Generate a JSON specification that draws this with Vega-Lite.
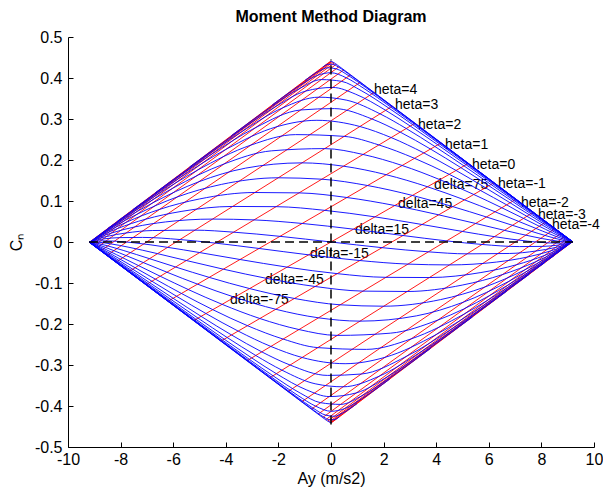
{
"$schema":"https://vega.github.io/schema/vega-lite/v6.json",
"width":526,"height":410,
"autosize":{"type":"none"},
"padding":{"left":68,"top":37,"right":9,"bottom":43},
"background":"white",
"config":{"view":{"stroke":null},"font":"Liberation Sans"},
"title":{"text":"Moment Method Diagram","fontSize":16,"fontWeight":"bold","font":"Liberation Sans","color":"black","offset":4,"anchor":"middle"},
"datasets":{
"lab":[
{"t":"heta=4","x":1.635,"y":0.371},{"t":"heta=3","x":2.433,"y":0.334},{"t":"heta=2","x":3.308,"y":0.285},{"t":"heta=1","x":4.335,"y":0.237},{"t":"heta=0","x":5.36,"y":0.188},{"t":"heta=-1","x":6.35,"y":0.1415},{"t":"heta=-2","x":7.224,"y":0.095},{"t":"heta=-3","x":7.87,"y":0.066},{"t":"heta=-4","x":8.4,"y":0.0415},
{"t":"delta=75","x":3.92,"y":0.139},{"t":"delta=45","x":2.55,"y":0.0927},{"t":"delta=15","x":0.91,"y":0.0293},{"t":"delta=-15","x":-0.8,"y":-0.0293},{"t":"delta=-45","x":-2.51,"y":-0.0927},{"t":"delta=-75","x":-3.84,"y":-0.1415}
],
"red":[
{"b":0,"x":5.225,"y":0.1918},{"b":0,"x":-5.225,"y":-0.1918},
{"b":1,"x":4.189,"y":0.2418},{"b":1,"x":-6.202,"y":-0.1447},
{"b":2,"x":3.196,"y":0.2897},{"b":2,"x":-7.036,"y":-0.1044},
{"b":3,"x":2.331,"y":0.3314},{"b":3,"x":-7.694,"y":-0.0727},
{"b":4,"x":1.638,"y":0.3648},{"b":4,"x":-8.179,"y":-0.0493},
{"b":5,"x":1.118,"y":0.3898},{"b":5,"x":-8.521,"y":-0.0328},
{"b":6,"x":0.746,"y":0.4077},{"b":6,"x":-8.754,"y":-0.0215},
{"b":7,"x":0.490,"y":0.4199},{"b":7,"x":-8.910,"y":-0.0140},
{"b":8,"x":0.317,"y":0.4281},{"b":8,"x":-9.012,"y":-0.0091},
{"b":9,"x":0.201,"y":0.4335},{"b":9,"x":-9.079,"y":-0.0059},
{"b":10,"x":0.123,"y":0.4368},{"b":10,"x":-9.122,"y":-0.0038},
{"b":11,"x":0.069,"y":0.4389},{"b":11,"x":-9.150,"y":-0.0024},
{"b":12,"x":0.030,"y":0.4400},{"b":12,"x":-9.168,"y":-0.0016},
{"b":13,"x":-0.002,"y":0.4404},{"b":13,"x":-9.179,"y":-0.0010},
{"b":14,"x":-0.031,"y":0.4403},{"b":14,"x":-9.187,"y":-0.0007},
{"b":-1,"x":-4.189,"y":-0.2418},{"b":-1,"x":6.202,"y":0.1447},
{"b":-2,"x":-3.196,"y":-0.2897},{"b":-2,"x":7.036,"y":0.1044},
{"b":-3,"x":-2.331,"y":-0.3314},{"b":-3,"x":7.694,"y":0.0727},
{"b":-4,"x":-1.638,"y":-0.3648},{"b":-4,"x":8.179,"y":0.0493},
{"b":-5,"x":-1.118,"y":-0.3898},{"b":-5,"x":8.521,"y":0.0328},
{"b":-6,"x":-0.746,"y":-0.4077},{"b":-6,"x":8.754,"y":0.0215},
{"b":-7,"x":-0.490,"y":-0.4199},{"b":-7,"x":8.910,"y":0.0140},
{"b":-8,"x":-0.317,"y":-0.4281},{"b":-8,"x":9.012,"y":0.0091},
{"b":-9,"x":-0.201,"y":-0.4335},{"b":-9,"x":9.079,"y":0.0059},
{"b":-10,"x":-0.123,"y":-0.4368},{"b":-10,"x":9.122,"y":0.0038},
{"b":-11,"x":-0.069,"y":-0.4389},{"b":-11,"x":9.150,"y":0.0024},
{"b":-12,"x":-0.030,"y":-0.4400},{"b":-12,"x":9.168,"y":0.0016},
{"b":-13,"x":0.002,"y":-0.4404},{"b":-13,"x":9.179,"y":0.0010},
{"b":-14,"x":0.031,"y":-0.4403},{"b":-14,"x":9.187,"y":0.0007}
],
"blue":[
{"k":0,"x":-9.130,"y":0.0021},{"k":0,"x":-8.884,"y":0.0076},{"k":0,"x":-8.529,"y":0.0135},{"k":0,"x":-7.791,"y":0.0220},{"k":0,"x":-6.781,"y":0.0280},{"k":0,"x":-5.173,"y":0.0289},{"k":0,"x":-3.702,"y":0.0240},{"k":0,"x":-1.940,"y":0.0138},{"k":0,"x":0,"y":0},{"k":0,"x":1.940,"y":-0.0138},{"k":0,"x":3.702,"y":-0.0240},{"k":0,"x":5.173,"y":-0.0289},{"k":0,"x":6.781,"y":-0.0280},{"k":0,"x":7.791,"y":-0.0220},{"k":0,"x":8.529,"y":-0.0135},{"k":0,"x":8.884,"y":-0.0076},{"k":0,"x":9.130,"y":-0.0021},
{"k":1,"x":-9.109,"y":0.0031},{"k":1,"x":-8.795,"y":0.0118},{"k":1,"x":-8.354,"y":0.0217},{"k":1,"x":-7.466,"y":0.0367},{"k":1,"x":-6.296,"y":0.0489},{"k":1,"x":-4.504,"y":0.0559},{"k":1,"x":-2.926,"y":0.0539},{"k":1,"x":-1.096,"y":0.0452},{"k":1,"x":0.851,"y":0.0313},{"k":1,"x":2.736,"y":0.0158},{"k":1,"x":4.395,"y":0.0027},{"k":1,"x":5.742,"y":-0.0060},{"k":1,"x":7.171,"y":-0.0112},{"k":1,"x":8.040,"y":-0.0107},{"k":1,"x":8.659,"y":-0.0074},{"k":1,"x":8.949,"y":-0.0044},{"k":1,"x":9.146,"y":-0.0013},
{"k":2,"x":-9.078,"y":0.0046},{"k":2,"x":-8.672,"y":0.0177},{"k":2,"x":-8.119,"y":0.0328},{"k":2,"x":-7.048,"y":0.0556},{"k":2,"x":-5.701,"y":0.0745},{"k":2,"x":-3.740,"y":0.0867},{"k":2,"x":-2.086,"y":0.0862},{"k":2,"x":-0.237,"y":0.0772},{"k":2,"x":1.669,"y":0.0613},{"k":2,"x":3.459,"y":0.0427},{"k":2,"x":4.994,"y":0.0258},{"k":2,"x":6.213,"y":0.0130},{"k":2,"x":7.479,"y":0.0020},{"k":2,"x":8.232,"y":-0.0021},{"k":2,"x":8.756,"y":-0.0029},{"k":2,"x":8.997,"y":-0.0021},{"k":2,"x":9.157,"y":-0.0008},
{"k":3,"x":-9.034,"y":0.0067},{"k":3,"x":-8.500,"y":0.0258},{"k":3,"x":-7.802,"y":0.0476},{"k":3,"x":-6.516,"y":0.0796},{"k":3,"x":-4.990,"y":0.1051},{"k":3,"x":-2.897,"y":0.1207},{"k":3,"x":-1.214,"y":0.1198},{"k":3,"x":0.604,"y":0.1085},{"k":3,"x":2.424,"y":0.0890},{"k":3,"x":4.093,"y":0.0663},{"k":3,"x":5.498,"y":0.0452},{"k":3,"x":6.596,"y":0.0284},{"k":3,"x":7.719,"y":0.0124},{"k":3,"x":8.377,"y":0.0045},{"k":3,"x":8.829,"y":0.0005},{"k":3,"x":9.033,"y":-0.0004},{"k":3,"x":9.166,"y":-0.0004},
{"k":4,"x":-8.971,"y":0.0098},{"k":4,"x":-8.258,"y":0.0374},{"k":4,"x":-7.373,"y":0.0677},{"k":4,"x":-5.848,"y":0.1098},{"k":4,"x":-4.166,"y":0.1405},{"k":4,"x":-2.006,"y":0.1566},{"k":4,"x":-0.348,"y":0.1532},{"k":4,"x":1.392,"y":0.1377},{"k":4,"x":3.095,"y":0.1136},{"k":4,"x":4.631,"y":0.0863},{"k":4,"x":5.909,"y":0.0610},{"k":4,"x":6.900,"y":0.0407},{"k":4,"x":7.904,"y":0.0204},{"k":4,"x":8.487,"y":0.0095},{"k":4,"x":8.883,"y":0.0031},{"k":4,"x":9.060,"y":0.0008},{"k":4,"x":9.172,"y":-0.0001},
{"k":5,"x":-8.874,"y":0.0144},{"k":5,"x":-7.911,"y":0.0539},{"k":5,"x":-6.795,"y":0.0948},{"k":5,"x":-5.030,"y":0.1468},{"k":5,"x":-3.245,"y":0.1802},{"k":5,"x":-1.103,"y":0.1930},{"k":5,"x":0.476,"y":0.1849},{"k":5,"x":2.099,"y":0.1641},{"k":5,"x":3.669,"y":0.1347},{"k":5,"x":5.074,"y":0.1028},{"k":5,"x":6.238,"y":0.0737},{"k":5,"x":7.137,"y":0.0502},{"k":5,"x":8.045,"y":0.0265},{"k":5,"x":8.570,"y":0.0132},{"k":5,"x":8.924,"y":0.0049},{"k":5,"x":9.079,"y":0.0018},{"k":5,"x":9.177,"y":0.0002},
{"k":6,"x":-8.722,"y":0.0217},{"k":6,"x":-7.406,"y":0.0780},{"k":6,"x":-6.023,"y":0.1310},{"k":6,"x":-4.064,"y":0.1904},{"k":6,"x":-2.268,"y":0.2223},{"k":6,"x":-0.238,"y":0.2278},{"k":6,"x":1.219,"y":0.2135},{"k":6,"x":2.706,"y":0.1866},{"k":6,"x":4.141,"y":0.1520},{"k":6,"x":5.428,"y":0.1159},{"k":6,"x":6.494,"y":0.0835},{"k":6,"x":7.319,"y":0.0576},{"k":6,"x":8.152,"y":0.0310},{"k":6,"x":8.632,"y":0.0160},{"k":6,"x":8.953,"y":0.0063},{"k":6,"x":9.093,"y":0.0024},{"k":6,"x":9.180,"y":0.0003},
{"k":7,"x":-8.489,"y":0.0330},{"k":7,"x":-7.830,"y":0.0627},{"k":7,"x":-6.716,"y":0.1109},{"k":7,"x":-5.083,"y":0.1750},{"k":7,"x":-3.047,"y":0.2363},{"k":7,"x":-1.347,"y":0.2619},{"k":7,"x":0.501,"y":0.2576},{"k":7,"x":1.821,"y":0.2367},{"k":7,"x":3.177,"y":0.2041},{"k":7,"x":4.496,"y":0.1650},{"k":7,"x":5.687,"y":0.1255},{"k":7,"x":6.678,"y":0.0906},{"k":7,"x":7.447,"y":0.0628},{"k":7,"x":8.226,"y":0.0342},{"k":7,"x":8.674,"y":0.0179},{"k":7,"x":8.974,"y":0.0073},{"k":7,"x":9.103,"y":0.0029},{"k":7,"x":9.182,"y":0.0004},
{"k":8,"x":-8.124,"y":0.0505},{"k":8,"x":-7.207,"y":0.0926},{"k":8,"x":-5.803,"y":0.1544},{"k":8,"x":-4.006,"y":0.2255},{"k":8,"x":-2.052,"y":0.2813},{"k":8,"x":-0.537,"y":0.2968},{"k":8,"x":1.098,"y":0.2817},{"k":8,"x":2.287,"y":0.2547},{"k":8,"x":3.530,"y":0.2173},{"k":8,"x":4.755,"y":0.1745},{"k":8,"x":5.872,"y":0.1324},{"k":8,"x":6.808,"y":0.0957},{"k":8,"x":7.538,"y":0.0664},{"k":8,"x":8.278,"y":0.0364},{"k":8,"x":8.704,"y":0.0192},{"k":8,"x":8.988,"y":0.0080},{"k":8,"x":9.110,"y":0.0032},{"k":8,"x":9.184,"y":0.0005},
{"k":9,"x":-7.538,"y":0.0788},{"k":9,"x":-6.299,"y":0.1362},{"k":9,"x":-4.651,"y":0.2093},{"k":9,"x":-2.860,"y":0.2792},{"k":9,"x":-1.151,"y":0.3220},{"k":9,"x":0.128,"y":0.3254},{"k":9,"x":1.555,"y":0.3001},{"k":9,"x":2.632,"y":0.2680},{"k":9,"x":3.784,"y":0.2267},{"k":9,"x":4.939,"y":0.1813},{"k":9,"x":6.002,"y":0.1373},{"k":9,"x":6.899,"y":0.0991},{"k":9,"x":7.600,"y":0.0689},{"k":9,"x":8.313,"y":0.0380},{"k":9,"x":8.724,"y":0.0202},{"k":9,"x":8.998,"y":0.0084},{"k":9,"x":9.115,"y":0.0035},{"k":9,"x":9.185,"y":0.0006},
{"k":10,"x":-6.679,"y":0.1201},{"k":10,"x":-5.142,"y":0.1917},{"k":10,"x":-3.421,"y":0.2679},{"k":10,"x":-1.839,"y":0.3271},{"k":10,"x":-0.459,"y":0.3532},{"k":10,"x":0.602,"y":0.3458},{"k":10,"x":1.864,"y":0.3126},{"k":10,"x":2.860,"y":0.2768},{"k":10,"x":3.950,"y":0.2329},{"k":10,"x":5.057,"y":0.1856},{"k":10,"x":6.084,"y":0.1403},{"k":10,"x":6.956,"y":0.1013},{"k":10,"x":7.639,"y":0.0705},{"k":10,"x":8.335,"y":0.0389},{"k":10,"x":8.737,"y":0.0207},{"k":10,"x":9.004,"y":0.0087},{"k":10,"x":9.118,"y":0.0036},{"k":10,"x":9.186,"y":0.0006},
{"k":11,"x":-5.382,"y":0.1826},{"k":11,"x":-3.698,"y":0.2611},{"k":11,"x":-2.170,"y":0.3276},{"k":11,"x":-0.966,"y":0.3680},{"k":11,"x":0.066,"y":0.3770},{"k":11,"x":0.942,"y":0.3604},{"k":11,"x":2.078,"y":0.3212},{"k":11,"x":3.015,"y":0.2827},{"k":11,"x":4.061,"y":0.2370},{"k":11,"x":5.135,"y":0.1885},{"k":11,"x":6.139,"y":0.1424},{"k":11,"x":6.993,"y":0.1028},{"k":11,"x":7.665,"y":0.0715},{"k":11,"x":8.350,"y":0.0395},{"k":11,"x":8.745,"y":0.0211},{"k":11,"x":9.007,"y":0.0089},{"k":11,"x":9.120,"y":0.0037},{"k":11,"x":9.186,"y":0.0006},
{"k":12,"x":-3.787,"y":0.2594},{"k":12,"x":-2.289,"y":0.3287},{"k":12,"x":-1.174,"y":0.3750},{"k":12,"x":-0.365,"y":0.3961},{"k":12,"x":0.397,"y":0.3919},{"k":12,"x":1.147,"y":0.3693},{"k":12,"x":2.204,"y":0.3263},{"k":12,"x":3.106,"y":0.2862},{"k":12,"x":4.125,"y":0.2394},{"k":12,"x":5.180,"y":0.1902},{"k":12,"x":6.170,"y":0.1435},{"k":12,"x":7.015,"y":0.1036},{"k":12,"x":7.679,"y":0.0721},{"k":12,"x":8.358,"y":0.0399},{"k":12,"x":8.750,"y":0.0213},{"k":12,"x":9.010,"y":0.0090},{"k":12,"x":9.121,"y":0.0037},{"k":12,"x":9.186,"y":0.0006},
{"k":13,"x":-2.234,"y":0.3342},{"k":13,"x":-1.194,"y":0.3813},{"k":13,"x":-0.516,"y":0.4064},{"k":13,"x":-0.006,"y":0.4129},{"k":13,"x":0.584,"y":0.4004},{"k":13,"x":1.261,"y":0.3742},{"k":13,"x":2.273,"y":0.3291},{"k":13,"x":3.155,"y":0.2881},{"k":13,"x":4.160,"y":0.2407},{"k":13,"x":5.205,"y":0.1910},{"k":13,"x":6.187,"y":0.1442},{"k":13,"x":7.026,"y":0.1041},{"k":13,"x":7.687,"y":0.0724},{"k":13,"x":8.362,"y":0.0401},{"k":13,"x":8.752,"y":0.0214},{"k":13,"x":9.011,"y":0.0090},{"k":13,"x":9.121,"y":0.0038},{"k":13,"x":9.187,"y":0.0006},
{"k":14,"x":-0.991,"y":0.3940},{"k":14,"x":-0.464,"y":0.4163},{"k":14,"x":-0.124,"y":0.4250},{"k":14,"x":0.195,"y":0.4224},{"k":14,"x":0.686,"y":0.4050},{"k":14,"x":1.321,"y":0.3768},{"k":14,"x":2.309,"y":0.3305},{"k":14,"x":3.181,"y":0.2891},{"k":14,"x":4.178,"y":0.2414},{"k":14,"x":5.218,"y":0.1915},{"k":14,"x":6.196,"y":0.1445},{"k":14,"x":7.032,"y":0.1043},{"k":14,"x":7.691,"y":0.0726},{"k":14,"x":8.365,"y":0.0402},{"k":14,"x":8.753,"y":0.0215},{"k":14,"x":9.011,"y":0.0091},{"k":14,"x":9.121,"y":0.0038},{"k":14,"x":9.187,"y":0.0006},
{"k":15,"x":-0.308,"y":0.4269},{"k":15,"x":-0.107,"y":0.4334},{"k":15,"x":0.056,"y":0.4336},{"k":15,"x":0.284,"y":0.4266},{"k":15,"x":0.730,"y":0.4070},{"k":15,"x":1.348,"y":0.3779},{"k":15,"x":2.325,"y":0.3312},{"k":15,"x":3.192,"y":0.2895},{"k":15,"x":4.186,"y":0.2417},{"k":15,"x":5.223,"y":0.1917},{"k":15,"x":6.200,"y":0.1446},{"k":15,"x":7.035,"y":0.1044},{"k":15,"x":7.693,"y":0.0727},{"k":15,"x":8.366,"y":0.0402},{"k":15,"x":8.754,"y":0.0215},{"k":15,"x":9.012,"y":0.0091},{"k":15,"x":9.122,"y":0.0038},{"k":15,"x":9.187,"y":0.0007},
{"k":16,"x":-0.031,"y":0.4403},{"k":16,"x":0.030,"y":0.4400},{"k":16,"x":0.123,"y":0.4368},{"k":16,"x":0.317,"y":0.4281},{"k":16,"x":0.746,"y":0.4077},{"k":16,"x":1.357,"y":0.3783},{"k":16,"x":2.331,"y":0.3314},{"k":16,"x":3.196,"y":0.2897},{"k":16,"x":4.189,"y":0.2418},{"k":16,"x":5.225,"y":0.1918},{"k":16,"x":6.202,"y":0.1447},{"k":16,"x":7.036,"y":0.1044},{"k":16,"x":7.694,"y":0.0727},{"k":16,"x":8.366,"y":0.0403},{"k":16,"x":8.754,"y":0.0215},{"k":16,"x":9.012,"y":0.0091},{"k":16,"x":9.122,"y":0.0038},{"k":16,"x":9.187,"y":0.0007},
{"k":-1,"x":9.109,"y":-0.0031},{"k":-1,"x":8.795,"y":-0.0118},{"k":-1,"x":8.354,"y":-0.0217},{"k":-1,"x":7.466,"y":-0.0367},{"k":-1,"x":6.296,"y":-0.0489},{"k":-1,"x":4.504,"y":-0.0559},{"k":-1,"x":2.926,"y":-0.0539},{"k":-1,"x":1.096,"y":-0.0452},{"k":-1,"x":-0.851,"y":-0.0313},{"k":-1,"x":-2.736,"y":-0.0158},{"k":-1,"x":-4.395,"y":-0.0027},{"k":-1,"x":-5.742,"y":0.0060},{"k":-1,"x":-7.171,"y":0.0112},{"k":-1,"x":-8.040,"y":0.0107},{"k":-1,"x":-8.659,"y":0.0074},{"k":-1,"x":-8.949,"y":0.0044},{"k":-1,"x":-9.146,"y":0.0013},
{"k":-2,"x":9.078,"y":-0.0046},{"k":-2,"x":8.672,"y":-0.0177},{"k":-2,"x":8.119,"y":-0.0328},{"k":-2,"x":7.048,"y":-0.0556},{"k":-2,"x":5.701,"y":-0.0745},{"k":-2,"x":3.740,"y":-0.0867},{"k":-2,"x":2.086,"y":-0.0862},{"k":-2,"x":0.237,"y":-0.0772},{"k":-2,"x":-1.669,"y":-0.0613},{"k":-2,"x":-3.459,"y":-0.0427},{"k":-2,"x":-4.994,"y":-0.0258},{"k":-2,"x":-6.213,"y":-0.0130},{"k":-2,"x":-7.479,"y":-0.0020},{"k":-2,"x":-8.232,"y":0.0021},{"k":-2,"x":-8.756,"y":0.0029},{"k":-2,"x":-8.997,"y":0.0021},{"k":-2,"x":-9.157,"y":0.0008},
{"k":-3,"x":9.034,"y":-0.0067},{"k":-3,"x":8.500,"y":-0.0258},{"k":-3,"x":7.802,"y":-0.0476},{"k":-3,"x":6.516,"y":-0.0796},{"k":-3,"x":4.990,"y":-0.1051},{"k":-3,"x":2.897,"y":-0.1207},{"k":-3,"x":1.214,"y":-0.1198},{"k":-3,"x":-0.604,"y":-0.1085},{"k":-3,"x":-2.424,"y":-0.0890},{"k":-3,"x":-4.093,"y":-0.0663},{"k":-3,"x":-5.498,"y":-0.0452},{"k":-3,"x":-6.596,"y":-0.0284},{"k":-3,"x":-7.719,"y":-0.0124},{"k":-3,"x":-8.377,"y":-0.0045},{"k":-3,"x":-8.829,"y":-0.0005},{"k":-3,"x":-9.033,"y":0.0004},{"k":-3,"x":-9.166,"y":0.0004},
{"k":-4,"x":8.971,"y":-0.0098},{"k":-4,"x":8.258,"y":-0.0374},{"k":-4,"x":7.373,"y":-0.0677},{"k":-4,"x":5.848,"y":-0.1098},{"k":-4,"x":4.166,"y":-0.1405},{"k":-4,"x":2.006,"y":-0.1566},{"k":-4,"x":0.348,"y":-0.1532},{"k":-4,"x":-1.392,"y":-0.1377},{"k":-4,"x":-3.095,"y":-0.1136},{"k":-4,"x":-4.631,"y":-0.0863},{"k":-4,"x":-5.909,"y":-0.0610},{"k":-4,"x":-6.900,"y":-0.0407},{"k":-4,"x":-7.904,"y":-0.0204},{"k":-4,"x":-8.487,"y":-0.0095},{"k":-4,"x":-8.883,"y":-0.0031},{"k":-4,"x":-9.060,"y":-0.0008},{"k":-4,"x":-9.172,"y":0.0001},
{"k":-5,"x":8.874,"y":-0.0144},{"k":-5,"x":7.911,"y":-0.0539},{"k":-5,"x":6.795,"y":-0.0948},{"k":-5,"x":5.030,"y":-0.1468},{"k":-5,"x":3.245,"y":-0.1802},{"k":-5,"x":1.103,"y":-0.1930},{"k":-5,"x":-0.476,"y":-0.1849},{"k":-5,"x":-2.099,"y":-0.1641},{"k":-5,"x":-3.669,"y":-0.1347},{"k":-5,"x":-5.074,"y":-0.1028},{"k":-5,"x":-6.238,"y":-0.0737},{"k":-5,"x":-7.137,"y":-0.0502},{"k":-5,"x":-8.045,"y":-0.0265},{"k":-5,"x":-8.570,"y":-0.0132},{"k":-5,"x":-8.924,"y":-0.0049},{"k":-5,"x":-9.079,"y":-0.0018},{"k":-5,"x":-9.177,"y":-0.0002},
{"k":-6,"x":8.722,"y":-0.0217},{"k":-6,"x":7.406,"y":-0.0780},{"k":-6,"x":6.023,"y":-0.1310},{"k":-6,"x":4.064,"y":-0.1904},{"k":-6,"x":2.268,"y":-0.2223},{"k":-6,"x":0.238,"y":-0.2278},{"k":-6,"x":-1.219,"y":-0.2135},{"k":-6,"x":-2.706,"y":-0.1866},{"k":-6,"x":-4.141,"y":-0.1520},{"k":-6,"x":-5.428,"y":-0.1159},{"k":-6,"x":-6.494,"y":-0.0835},{"k":-6,"x":-7.319,"y":-0.0576},{"k":-6,"x":-8.152,"y":-0.0310},{"k":-6,"x":-8.632,"y":-0.0160},{"k":-6,"x":-8.953,"y":-0.0063},{"k":-6,"x":-9.093,"y":-0.0024},{"k":-6,"x":-9.180,"y":-0.0003},
{"k":-7,"x":8.489,"y":-0.0330},{"k":-7,"x":7.830,"y":-0.0627},{"k":-7,"x":6.716,"y":-0.1109},{"k":-7,"x":5.083,"y":-0.1750},{"k":-7,"x":3.047,"y":-0.2363},{"k":-7,"x":1.347,"y":-0.2619},{"k":-7,"x":-0.501,"y":-0.2576},{"k":-7,"x":-1.821,"y":-0.2367},{"k":-7,"x":-3.177,"y":-0.2041},{"k":-7,"x":-4.496,"y":-0.1650},{"k":-7,"x":-5.687,"y":-0.1255},{"k":-7,"x":-6.678,"y":-0.0906},{"k":-7,"x":-7.447,"y":-0.0628},{"k":-7,"x":-8.226,"y":-0.0342},{"k":-7,"x":-8.674,"y":-0.0179},{"k":-7,"x":-8.974,"y":-0.0073},{"k":-7,"x":-9.103,"y":-0.0029},{"k":-7,"x":-9.182,"y":-0.0004},
{"k":-8,"x":8.124,"y":-0.0505},{"k":-8,"x":7.207,"y":-0.0926},{"k":-8,"x":5.803,"y":-0.1544},{"k":-8,"x":4.006,"y":-0.2255},{"k":-8,"x":2.052,"y":-0.2813},{"k":-8,"x":0.537,"y":-0.2968},{"k":-8,"x":-1.098,"y":-0.2817},{"k":-8,"x":-2.287,"y":-0.2547},{"k":-8,"x":-3.530,"y":-0.2173},{"k":-8,"x":-4.755,"y":-0.1745},{"k":-8,"x":-5.872,"y":-0.1324},{"k":-8,"x":-6.808,"y":-0.0957},{"k":-8,"x":-7.538,"y":-0.0664},{"k":-8,"x":-8.278,"y":-0.0364},{"k":-8,"x":-8.704,"y":-0.0192},{"k":-8,"x":-8.988,"y":-0.0080},{"k":-8,"x":-9.110,"y":-0.0032},{"k":-8,"x":-9.184,"y":-0.0005},
{"k":-9,"x":7.538,"y":-0.0788},{"k":-9,"x":6.299,"y":-0.1362},{"k":-9,"x":4.651,"y":-0.2093},{"k":-9,"x":2.860,"y":-0.2792},{"k":-9,"x":1.151,"y":-0.3220},{"k":-9,"x":-0.128,"y":-0.3254},{"k":-9,"x":-1.555,"y":-0.3001},{"k":-9,"x":-2.632,"y":-0.2680},{"k":-9,"x":-3.784,"y":-0.2267},{"k":-9,"x":-4.939,"y":-0.1813},{"k":-9,"x":-6.002,"y":-0.1373},{"k":-9,"x":-6.899,"y":-0.0991},{"k":-9,"x":-7.600,"y":-0.0689},{"k":-9,"x":-8.313,"y":-0.0380},{"k":-9,"x":-8.724,"y":-0.0202},{"k":-9,"x":-8.998,"y":-0.0084},{"k":-9,"x":-9.115,"y":-0.0035},{"k":-9,"x":-9.185,"y":-0.0006},
{"k":-10,"x":6.679,"y":-0.1201},{"k":-10,"x":5.142,"y":-0.1917},{"k":-10,"x":3.421,"y":-0.2679},{"k":-10,"x":1.839,"y":-0.3271},{"k":-10,"x":0.459,"y":-0.3532},{"k":-10,"x":-0.602,"y":-0.3458},{"k":-10,"x":-1.864,"y":-0.3126},{"k":-10,"x":-2.860,"y":-0.2768},{"k":-10,"x":-3.950,"y":-0.2329},{"k":-10,"x":-5.057,"y":-0.1856},{"k":-10,"x":-6.084,"y":-0.1403},{"k":-10,"x":-6.956,"y":-0.1013},{"k":-10,"x":-7.639,"y":-0.0705},{"k":-10,"x":-8.335,"y":-0.0389},{"k":-10,"x":-8.737,"y":-0.0207},{"k":-10,"x":-9.004,"y":-0.0087},{"k":-10,"x":-9.118,"y":-0.0036},{"k":-10,"x":-9.186,"y":-0.0006},
{"k":-11,"x":5.382,"y":-0.1826},{"k":-11,"x":3.698,"y":-0.2611},{"k":-11,"x":2.170,"y":-0.3276},{"k":-11,"x":0.966,"y":-0.3680},{"k":-11,"x":-0.066,"y":-0.3770},{"k":-11,"x":-0.942,"y":-0.3604},{"k":-11,"x":-2.078,"y":-0.3212},{"k":-11,"x":-3.015,"y":-0.2827},{"k":-11,"x":-4.061,"y":-0.2370},{"k":-11,"x":-5.135,"y":-0.1885},{"k":-11,"x":-6.139,"y":-0.1424},{"k":-11,"x":-6.993,"y":-0.1028},{"k":-11,"x":-7.665,"y":-0.0715},{"k":-11,"x":-8.350,"y":-0.0395},{"k":-11,"x":-8.745,"y":-0.0211},{"k":-11,"x":-9.007,"y":-0.0089},{"k":-11,"x":-9.120,"y":-0.0037},{"k":-11,"x":-9.186,"y":-0.0006},
{"k":-12,"x":3.787,"y":-0.2594},{"k":-12,"x":2.289,"y":-0.3287},{"k":-12,"x":1.174,"y":-0.3750},{"k":-12,"x":0.365,"y":-0.3961},{"k":-12,"x":-0.397,"y":-0.3919},{"k":-12,"x":-1.147,"y":-0.3693},{"k":-12,"x":-2.204,"y":-0.3263},{"k":-12,"x":-3.106,"y":-0.2862},{"k":-12,"x":-4.125,"y":-0.2394},{"k":-12,"x":-5.180,"y":-0.1902},{"k":-12,"x":-6.170,"y":-0.1435},{"k":-12,"x":-7.015,"y":-0.1036},{"k":-12,"x":-7.679,"y":-0.0721},{"k":-12,"x":-8.358,"y":-0.0399},{"k":-12,"x":-8.750,"y":-0.0213},{"k":-12,"x":-9.010,"y":-0.0090},{"k":-12,"x":-9.121,"y":-0.0037},{"k":-12,"x":-9.186,"y":-0.0006},
{"k":-13,"x":2.234,"y":-0.3342},{"k":-13,"x":1.194,"y":-0.3813},{"k":-13,"x":0.516,"y":-0.4064},{"k":-13,"x":0.006,"y":-0.4129},{"k":-13,"x":-0.584,"y":-0.4004},{"k":-13,"x":-1.261,"y":-0.3742},{"k":-13,"x":-2.273,"y":-0.3291},{"k":-13,"x":-3.155,"y":-0.2881},{"k":-13,"x":-4.160,"y":-0.2407},{"k":-13,"x":-5.205,"y":-0.1910},{"k":-13,"x":-6.187,"y":-0.1442},{"k":-13,"x":-7.026,"y":-0.1041},{"k":-13,"x":-7.687,"y":-0.0724},{"k":-13,"x":-8.362,"y":-0.0401},{"k":-13,"x":-8.752,"y":-0.0214},{"k":-13,"x":-9.011,"y":-0.0090},{"k":-13,"x":-9.121,"y":-0.0038},{"k":-13,"x":-9.187,"y":-0.0006},
{"k":-14,"x":0.991,"y":-0.3940},{"k":-14,"x":0.464,"y":-0.4163},{"k":-14,"x":0.124,"y":-0.4250},{"k":-14,"x":-0.195,"y":-0.4224},{"k":-14,"x":-0.686,"y":-0.4050},{"k":-14,"x":-1.321,"y":-0.3768},{"k":-14,"x":-2.309,"y":-0.3305},{"k":-14,"x":-3.181,"y":-0.2891},{"k":-14,"x":-4.178,"y":-0.2414},{"k":-14,"x":-5.218,"y":-0.1915},{"k":-14,"x":-6.196,"y":-0.1445},{"k":-14,"x":-7.032,"y":-0.1043},{"k":-14,"x":-7.691,"y":-0.0726},{"k":-14,"x":-8.365,"y":-0.0402},{"k":-14,"x":-8.753,"y":-0.0215},{"k":-14,"x":-9.011,"y":-0.0091},{"k":-14,"x":-9.121,"y":-0.0038},{"k":-14,"x":-9.187,"y":-0.0006},
{"k":-15,"x":0.308,"y":-0.4269},{"k":-15,"x":0.107,"y":-0.4334},{"k":-15,"x":-0.056,"y":-0.4336},{"k":-15,"x":-0.284,"y":-0.4266},{"k":-15,"x":-0.730,"y":-0.4070},{"k":-15,"x":-1.348,"y":-0.3779},{"k":-15,"x":-2.325,"y":-0.3312},{"k":-15,"x":-3.192,"y":-0.2895},{"k":-15,"x":-4.186,"y":-0.2417},{"k":-15,"x":-5.223,"y":-0.1917},{"k":-15,"x":-6.200,"y":-0.1446},{"k":-15,"x":-7.035,"y":-0.1044},{"k":-15,"x":-7.693,"y":-0.0727},{"k":-15,"x":-8.366,"y":-0.0402},{"k":-15,"x":-8.754,"y":-0.0215},{"k":-15,"x":-9.012,"y":-0.0091},{"k":-15,"x":-9.122,"y":-0.0038},{"k":-15,"x":-9.187,"y":-0.0007},
{"k":-16,"x":0.031,"y":-0.4403},{"k":-16,"x":-0.030,"y":-0.4400},{"k":-16,"x":-0.123,"y":-0.4368},{"k":-16,"x":-0.317,"y":-0.4281},{"k":-16,"x":-0.746,"y":-0.4077},{"k":-16,"x":-1.357,"y":-0.3783},{"k":-16,"x":-2.331,"y":-0.3314},{"k":-16,"x":-3.196,"y":-0.2897},{"k":-16,"x":-4.189,"y":-0.2418},{"k":-16,"x":-5.225,"y":-0.1918},{"k":-16,"x":-6.202,"y":-0.1447},{"k":-16,"x":-7.036,"y":-0.1044},{"k":-16,"x":-7.694,"y":-0.0727},{"k":-16,"x":-8.366,"y":-0.0403},{"k":-16,"x":-8.754,"y":-0.0215},{"k":-16,"x":-9.012,"y":-0.0091},{"k":-16,"x":-9.122,"y":-0.0038},{"k":-16,"x":-9.187,"y":-0.0007}
],
"dash":[
{"g":"h","x":-9.2,"y":0},{"g":"h","x":9.2,"y":0},
{"g":"v","x":0,"y":-0.445},{"g":"v","x":0,"y":0.445}
]
},
"encoding":{
"x":{"field":"x","type":"quantitative","scale":{"domain":[-10,10],"nice":false,"zero":false},
"axis":{"title":"Ay (m/s2)","values":[-10,-8,-6,-4,-2,0,2,4,6,8,10],"labelExpr":"toString(datum.value)","grid":false,"tickSize":-5,"labelPadding":9,"domainColor":"black","tickColor":"black","labelColor":"black","titleColor":"black","labelFontSize":16,"titleFontSize":16,"titleFontWeight":"normal","labelFont":"Liberation Sans","titleFont":"Liberation Sans","titlePadding":3,"labelFlush":false,"labelOverlap":false}},
"y":{"field":"y","type":"quantitative","scale":{"domain":[-0.5,0.5],"nice":false,"zero":false},
"axis":{"title":"Cₙ","values":[-0.5,-0.4,-0.3,-0.2,-0.1,0,0.1,0.2,0.3,0.4,0.5],"labelExpr":"toString(datum.value)","grid":false,"tickSize":-5,"labelPadding":11,"domainColor":"black","tickColor":"black","labelColor":"black","titleColor":"black","labelFontSize":16,"titleFontSize":16,"titleFontWeight":"normal","labelFont":"Liberation Sans","titleFont":"Liberation Sans","titlePadding":10,"labelFlush":false,"labelOverlap":false}}
},
"layer":[
{"data":{"name":"lab"},"mark":{"type":"text","align":"left","baseline":"middle","fontSize":14,"font":"Liberation Sans","color":"black"},"encoding":{"text":{"field":"t"}}},
{"data":{"name":"red"},"mark":{"type":"line","color":"#ff0000","strokeWidth":0.9},"encoding":{"detail":{"field":"b"}}},
{"data":{"name":"blue"},"mark":{"type":"line","color":"#0000ff","strokeWidth":0.9,"interpolate":"monotone"},"encoding":{"detail":{"field":"k"}}},
{"data":{"name":"dash"},"mark":{"type":"line","color":"black","strokeWidth":1.5,"strokeDash":[9,5]},"encoding":{"detail":{"field":"g"}}}
]
}
